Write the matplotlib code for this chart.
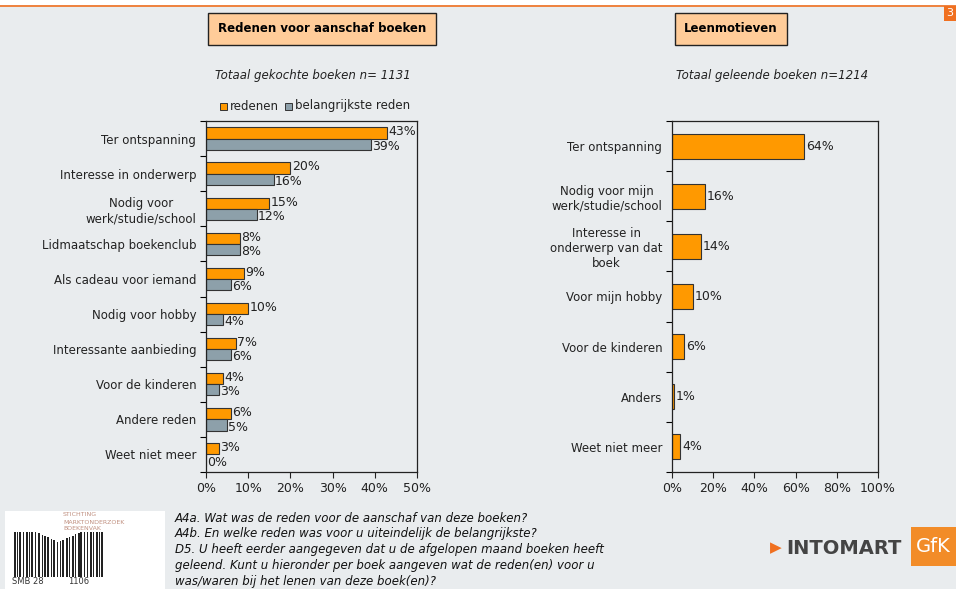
import numpy as np
import matplotlib
matplotlib.use("Agg")
import matplotlib.pyplot as plt
from matplotlib.patches import Rectangle
from matplotlib.lines import Line2D

# Purchase motives (left panel)
koop_labels = ["Ter ontspanning", "Interesse in onderwerp", "Nodig voor\nwerk/studie/school",
               "Lidmaatschap boekenclub", "Als cadeau voor iemand", "Nodig voor hobby",
               "Interessante aanbieding", "Voor de kinderen", "Andere reden", "Weet niet meer"]
redenen = [43, 20, 15, 8, 9, 10, 7, 4, 6, 3]
belangrijkste = [39, 16, 12, 8, 6, 4, 6, 3, 5, 0]

# Borrowing motives (right panel)
leen_labels = ["Ter ontspanning", "Nodig voor mijn\nwerk/studie/school",
               "Interesse in\nonderwerp van dat\nboek", "Voor mijn hobby",
               "Voor de kinderen", "Anders", "Weet niet meer"]
leen = [64, 16, 14, 10, 6, 1, 4]

BG = "#E9ECEE"
ORANGE = "#FF9900"
GREY = "#8DA0AA"
W, H = 956, 589

plt.rcParams['font.family'] = ['DejaVu Sans']
fig = plt.figure(figsize=(W / 100, H / 100), dpi=100)
fig.patch.set_facecolor(BG)


def px_axes(x0, y0, x1, y1):
    return fig.add_axes([x0 / W, 1 - y1 / H, (x1 - x0) / W, (y1 - y0) / H])


def px_rect(x0, y0, x1, y1, **kw):
    fig.patches.append(Rectangle((x0 / W, 1 - y1 / H), (x1 - x0) / W, (y1 - y0) / H,
                                 transform=fig.transFigure, **kw))


def style_axes(ax, n, xmax, step, labels):
    ax.set_facecolor(BG)
    ax.set_ylim(n, 0)
    ax.set_xlim(0, xmax)
    ax.set_yticks(np.arange(n + 1))
    ax.set_yticklabels([])
    ax.set_yticks(np.arange(n) + 0.5, minor=True)
    ax.set_yticklabels(labels, minor=True, fontsize=8.5, ha='right', multialignment='center',
                       color='#222222')
    ax.tick_params(axis='y', which='major', direction='out', length=4, width=0.8)
    ax.tick_params(axis='y', which='minor', length=0, pad=7)
    ticks = np.arange(0, xmax + 0.1, step)
    ax.set_xticks(ticks)
    ax.set_xticklabels([f"{int(v)}%" for v in ticks], fontsize=9)
    ax.tick_params(axis='x', direction='out', length=4, width=0.8, colors='#222222')
    for s in ax.spines.values():
        s.set_linewidth(0.9)
        s.set_color('#222222')


# left panel
ax1 = px_axes(206, 121, 417, 472)
n1 = len(koop_labels)
y = np.arange(n1) + 0.5
bh = 0.32
ax1.barh(y - bh / 2, redenen, height=bh, color=ORANGE, edgecolor='#333333', linewidth=0.8)
ax1.barh(y + bh / 2, belangrijkste, height=bh, color=GREY, edgecolor='#333333', linewidth=0.8)
style_axes(ax1, n1, 50, 10, koop_labels)
for yy, v in zip(y, redenen):
    ax1.text(v + 0.3, yy - bh / 2 - 0.03, f"{v}%", va='center', ha='left', fontsize=9, color='#222222')
for yy, v in zip(y, belangrijkste):
    ax1.text(v + 0.3, yy + bh / 2 + 0.06, f"{v}%", va='center', ha='left', fontsize=9, color='#222222')

# right panel
ax2 = px_axes(672, 121, 878, 472)
n2 = len(leen_labels)
y2 = np.arange(n2) + 0.5
ax2.barh(y2, leen, height=0.5, color=ORANGE, edgecolor='#333333', linewidth=0.8)
style_axes(ax2, n2, 100, 20, leen_labels)
for yy, v in zip(y2, leen):
    ax2.text(v + 1, yy, f"{v}%", va='center', ha='left', fontsize=9, color='#222222')

# titles
for x, t in [(322, "Redenen voor aanschaf boeken"), (731, "Leenmotieven")]:
    fig.text(x / W, 1 - 29 / H, t, ha='center', va='center', fontsize=8.5, fontweight='bold',
             bbox=dict(boxstyle='square,pad=0.8', facecolor='#FFCC99', edgecolor='#222222', linewidth=1))
fig.text(313 / W, 1 - 76 / H, "Totaal gekochte boeken n= 1131", ha='center', va='center',
         fontsize=8.5, style='italic', color='#222222')
fig.text(772 / W, 1 - 76 / H, "Totaal geleende boeken n=1214", ha='center', va='center',
         fontsize=8.5, style='italic', color='#222222')

# legend
px_rect(220, 103, 227, 110, facecolor=ORANGE, edgecolor='#333333', linewidth=0.7)
fig.text(230 / W, 1 - 106 / H, "redenen", va='center', fontsize=8.5, color='#222222')
px_rect(285, 103, 292, 110, facecolor=GREY, edgecolor='#333333', linewidth=0.7)
fig.text(295 / W, 1 - 106 / H, "belangrijkste reden", va='center', fontsize=8.5, color='#222222')

# page header line and number
px_rect(0, 0, W, 5, facecolor='white', edgecolor='none')
fig.add_artist(Line2D([0, 1], [1 - 5.5 / H, 1 - 5.5 / H], transform=fig.transFigure,
                      color='#F07020', linewidth=1.2))
px_rect(944, 6, 956, 21, facecolor='#F07020', edgecolor='none')
fig.text(950 / W, 1 - 13 / H, "3", ha='center', va='center', fontsize=8, color='white')

# question footnotes
notes = ["A4a. Wat was de reden voor de aanschaf van deze boeken?",
         "A4b. En welke reden was voor u uiteindelijk de belangrijkste?",
         "D5. U heeft eerder aangegeven dat u de afgelopen maand boeken heeft",
         "geleend. Kunt u hieronder per boek aangeven wat de reden(en) voor u",
         "was/waren bij het lenen van deze boek(en)?"]
for i, line in enumerate(notes):
    fig.text(175 / W, 1 - (518 + i * 16) / H, line, va='center', fontsize=8.5,
             style='italic', color='#111111')

# SMB logo block
px_rect(5, 511, 165, H, facecolor='white', edgecolor='none')
for i, t in enumerate(["STICHTING", "MARKTONDERZOEK", "BOEKENVAK"]):
    fig.text(63 / W, 1 - (515 + i * 7) / H, t, fontsize=4.5, color='#C09080', va='center')
bar_x = [14, 17, 19, 23, 26, 29, 31, 35, 38, 42, 44, 47, 51, 53, 57, 60, 62, 66, 69, 72,
         75, 78, 80, 84, 87, 90, 93, 96, 99, 101]
bar_w = [1.5, 1, 2, 1, 1.5, 1, 2, 1, 2, 1, 1.5, 2, 1, 2, 1, 1, 2, 1.5, 1, 2,
         1, 1.5, 2, 1, 1, 2, 1, 1.5, 1, 2]
for bx, bw in zip(bar_x, bar_w):
    top = 532 + max(0, 10 - abs(bx - 58) * 0.45)
    px_rect(bx, top, bx + bw, 577, facecolor='#222222', edgecolor='none')
fig.text(12 / W, 1 - 582 / H, "SMB 28", fontsize=6, color='#333333', va='center')
fig.text(68 / W, 1 - 582 / H, "1106", fontsize=6, color='#333333', va='center')

# Intomart GfK logo
fig.text(770 / W, 1 - 548 / H, "\u25B6", fontsize=11, color='#F07020', va='center')
fig.text(786 / W, 1 - 548 / H, "INTOMART", fontsize=14, fontweight='bold', color='#444444', va='center')
px_rect(911, 527, W, 566, facecolor='#F28C28', edgecolor='none')
fig.text(933 / W, 1 - 546 / H, "GfK", fontsize=14, color='white', ha='center', va='center')

fig.savefig("out.png", dpi=100, facecolor=fig.get_facecolor())
